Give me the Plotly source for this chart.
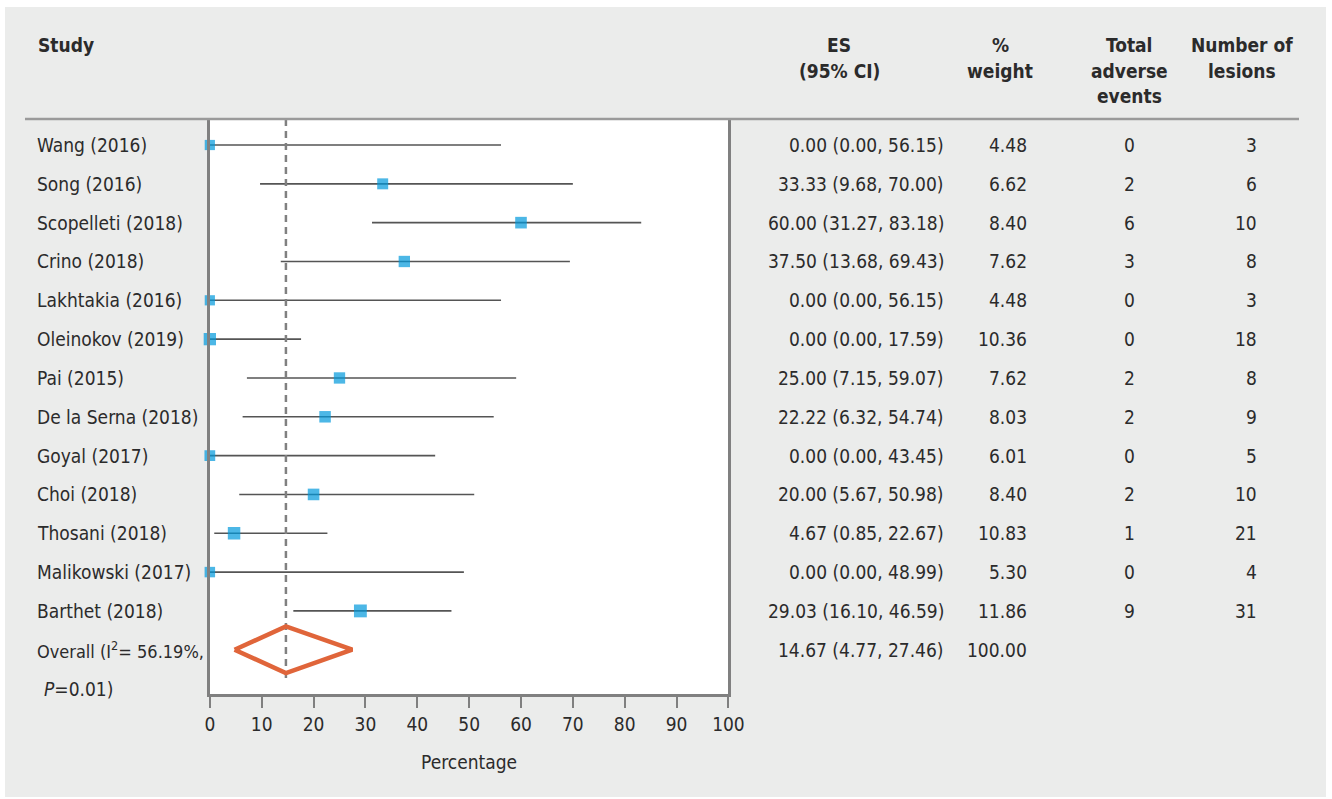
import plotly.graph_objects as go

studies = ["Wang (2016)", "Song (2016)", "Scopelleti (2018)", "Crino (2018)", "Lakhtakia (2016)",
           "Oleinokov (2019)", "Pai (2015)", "De la Serna (2018)", "Goyal (2017)", "Choi (2018)",
           "Thosani (2018)", "Malikowski (2017)", "Barthet (2018)"]
es = [0.00, 33.33, 60.00, 37.50, 0.00, 0.00, 25.00, 22.22, 0.00, 20.00, 4.67, 0.00, 29.03]
ci_lo = [0.00, 9.68, 31.27, 13.68, 0.00, 0.00, 7.15, 6.32, 0.00, 5.67, 0.85, 0.00, 16.10]
ci_hi = [56.15, 70.00, 83.18, 69.43, 56.15, 17.59, 59.07, 54.74, 43.45, 50.98, 22.67, 48.99, 46.59]
weight = [4.48, 6.62, 8.40, 7.62, 4.48, 10.36, 7.62, 8.03, 6.01, 8.40, 10.83, 5.30, 11.86]
events = [0, 2, 6, 3, 0, 0, 2, 2, 0, 2, 1, 0, 9]
lesions = [3, 6, 10, 8, 3, 18, 8, 9, 5, 10, 21, 4, 31]
overall_es, overall_lo, overall_hi, overall_w = 14.67, 4.77, 27.46, 100.00
x_ticks = [0, 10, 20, 30, 40, 50, 60, 70, 80, 90, 100]

W, H = 1332, 799
FONT = "Liberation Sans Narrow, DejaVu Sans Condensed, Arial Narrow, sans-serif"
TXT = "#2b2b2b"
GREY_BG = "#ebeceb"
BLUE = "#0099dc"
ORANGE = "#e0653a"
FS = 19

def px(x):
    # horizontal page position (pixels) -> paper fraction
    return ((x - 5) / 0.985) / W

def py(y):
    return 1 - y / H

row_top, row_bot = -0.67, 14.14
n = len(studies)
overall_row = n
rows = list(range(n))

fig = go.Figure()

# CI lines
for i in rows:
    fig.add_trace(go.Scatter(x=[ci_lo[i], ci_hi[i]], y=[i, i], mode="lines",
                             line=dict(color="#555555", width=1.6), hoverinfo="skip",
                             showlegend=False, cliponaxis=False))

# dashed overall line
fig.add_trace(go.Scatter(x=[overall_es, overall_es], y=[row_top, overall_row + 0.75], mode="lines",
                         line=dict(color="#808080", width=2.5, dash="7px,5px"), hoverinfo="skip",
                         showlegend=False))

# squares
fig.add_trace(go.Scatter(x=es, y=rows, mode="markers",
                         marker=dict(symbol="square", color=BLUE,
                                     size=[8.6 + 0.36 * w for w in weight], line=dict(width=0)),
                         hoverinfo="skip", showlegend=False, cliponaxis=False))

# diamond
fig.add_trace(go.Scatter(x=[overall_lo, overall_es, overall_hi, overall_es, overall_lo],
                         y=[overall_row, overall_row - 0.6, overall_row, overall_row + 0.6, overall_row],
                         mode="lines", line=dict(color=ORANGE, width=4.5), hoverinfo="skip",
                         showlegend=False, cliponaxis=False))

shapes = [
    dict(type="rect", xref="paper", yref="paper", x0=px(5), x1=px(1327), y0=py(797), y1=py(7),
         fillcolor=GREY_BG, line=dict(width=0), layer="below"),
    dict(type="rect", xref="paper", yref="paper", x0=px(210), x1=px(729), y0=py(694), y1=py(119),
         fillcolor="white", line=dict(width=0), layer="below"),
    dict(type="line", xref="paper", yref="paper", x0=px(25), x1=px(1300), y0=py(119), y1=py(119),
         line=dict(color="#9a9a9a", width=2.5)),
]

ann = []
def add(text, x, y, xanchor="left", yref="y", size=FS):
    ann.append(dict(text=text, x=x, y=y, xref="paper", yref=yref, xanchor=xanchor,
                    yanchor="middle", showarrow=False, font=dict(family=FONT, size=size, color=TXT)))

# headers
hy = [py(45), py(71), py(96)]
add("<b>Study</b>", px(36), hy[0], yref="paper")
add("<b>ES</b>", px(840), hy[0], "center", "paper")
add("<b>(95% CI)</b>", px(840), hy[1], "center", "paper")
add("<b>%</b>", px(1001), hy[0], "center", "paper")
add("<b>weight</b>", px(1001), hy[1], "center", "paper")
add("<b>Total</b>", px(1130), hy[0], "center", "paper")
add("<b>adverse</b>", px(1130), hy[1], "center", "paper")
add("<b>events</b>", px(1130), hy[2], "center", "paper")
add("<b>Number of</b>", px(1243), hy[0], "center", "paper")
add("<b>lesions</b>", px(1243), hy[1], "center", "paper")

for i in rows:
    add(studies[i], px(35), i)
    add(f"{es[i]:.2f} ({ci_lo[i]:.2f}, {ci_hi[i]:.2f})", px(947), i, "right")
    add(f"{weight[i]:.2f}", px(1030), i, "right")
    add(str(events[i]), px(1130), i, "center")
    add(str(lesions[i]), px(1260), i, "right")

add("Overall (I<sup>2</sup>= 56.19%,", px(35), overall_row, size=18)
add("<i>P</i>=0.01)", px(42), overall_row + 1)
add(f"{overall_es:.2f} ({overall_lo:.2f}, {overall_hi:.2f})", px(947), overall_row, "right")
add(f"{overall_w:.2f}", px(1030), overall_row, "right")

add("Percentage", px(469), py(762), "center", "paper")

fig.update_layout(
    width=W, height=H, margin=dict(l=0, r=0, t=0, b=0),
    paper_bgcolor="white", plot_bgcolor="rgba(0,0,0,0)",
    shapes=shapes, annotations=ann, showlegend=False,
    font=dict(family=FONT, size=FS, color=TXT),
    xaxis=dict(domain=[px(210), px(729)], range=[0, 100], tickvals=x_ticks,
               showgrid=False, zeroline=False, showline=True, linecolor="#808080", linewidth=2.5,
               ticks="outside", ticklen=11, tickwidth=1.5, tickcolor="#808080",
               tickfont=dict(family=FONT, size=FS, color=TXT), fixedrange=True),
    yaxis=dict(domain=[py(694), py(119)], range=[row_bot, row_top], showticklabels=False,
               showgrid=False, zeroline=False, showline=True, mirror=True, linecolor="#808080",
               linewidth=2.5, ticks="", fixedrange=True),
)

fig.write_html("out.html", config={"displayModeBar": False},
               post_script="document.body.style.margin='0';document.body.style.overflow='hidden';")
